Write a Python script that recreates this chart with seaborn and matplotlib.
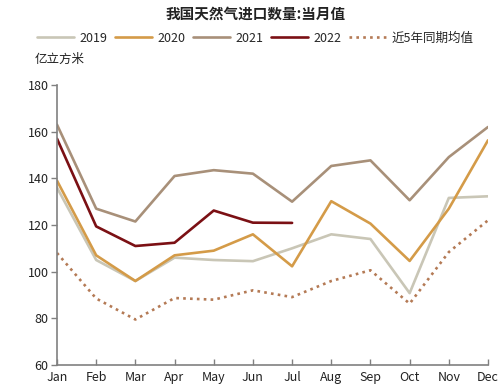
import matplotlib
matplotlib.use("Agg")
import matplotlib.pyplot as plt
import seaborn as sns
import pandas as pd

months = ["Jan", "Feb", "Mar", "Apr", "May", "Jun", "Jul", "Aug", "Sep", "Oct", "Nov", "Dec"]
y2019 = [136, 105, 96, 106, 105, 104.5, 110, 116, 114, 90.8, 131.6, 132.3]
y2020 = [139, 107, 96, 107, 109, 116, 102.3, 130.2, 120.6, 104.6, 127, 156.3]
y2021 = [163, 127, 121.5, 141, 143.5, 142, 130, 145.3, 147.7, 130.6, 149.1, 162]
y2022 = [157, 119.4, 111, 112.4, 126.2, 121, 120.9]
avg5 = [108, 88.5, 79.5, 88.7, 88, 92, 89.1, 96, 100.6, 86.3, 108.4, 122]

title = "我国天然气进口数量:当月值"
unit = "亿立方米"
labels = ["2019", "2020", "2021", "2022", "近5年同期均值"]
colors = ["#c9c6b6", "#d49b48", "#a89079", "#7b1014", "#b47a55"]

sns.set_theme(style="white")
plt.rcParams["font.family"] = ["Noto Sans CJK SC", "DejaVu Sans"]

fig = plt.figure(figsize=(5.02, 3.87), dpi=100)
ax = fig.add_axes([57 / 502, 1 - 365 / 387, (488 - 57) / 502, (365 - 85) / 387])

series = [y2019, y2020, y2021, y2022, avg5]
for lab, vals, col in zip(labels, series, colors):
    df = pd.DataFrame({"month": list(range(len(vals))), "value": vals})
    if lab == labels[-1]:
        ls, lw = (0, (1, 1.6)), 1.9
    else:
        ls, lw = "-", 1.9
    sns.lineplot(data=df, x="month", y="value", ax=ax, color=col, linewidth=lw,
                 linestyle=ls, label=lab, legend=False)

ax.set_xlim(0, 11)
ax.set_ylim(60, 180)
ax.set_yticks(range(60, 181, 20))
ax.set_xticks(range(12))
ax.set_xticklabels(months)
ax.set_xlabel("")
ax.set_ylabel("")
for s in ["top", "right"]:
    ax.spines[s].set_visible(False)
for s in ["left", "bottom"]:
    ax.spines[s].set_color("#808080")
    ax.spines[s].set_linewidth(1.2)
ax.tick_params(axis="y", direction="out", length=4, width=1, color="#808080",
               labelsize=9, labelcolor="#222222", pad=2, left=True)
ax.tick_params(axis="x", direction="in", length=4, width=1, color="#808080",
               labelsize=9, labelcolor="#222222", pad=4, bottom=True)

fig.text(0.51, 1 - 14 / 387, title, ha="center", va="center", fontsize=10.5,
         fontweight="bold", color="#222222")
fig.text(35 / 502, 1 - 59 / 387, unit, ha="left", va="center", fontsize=9,
         color="#222222")

handles, labs = ax.get_legend_handles_labels()
fig.legend(handles, labs, loc="center", bbox_to_anchor=(255 / 502, 1 - 38 / 387), ncol=5,
           frameon=False, fontsize=9, handlelength=3.0, handletextpad=0.4,
           columnspacing=0.6)

fig.savefig("out.png", dpi=100)
